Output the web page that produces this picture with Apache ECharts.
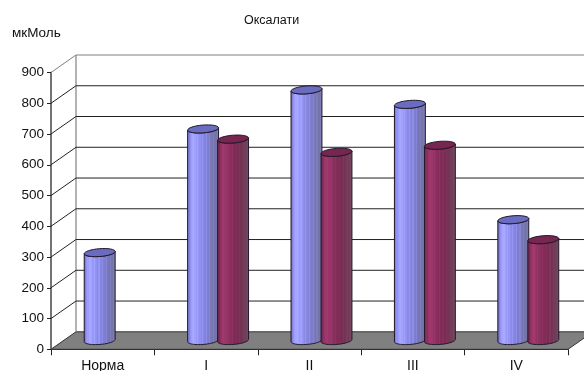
<!DOCTYPE html>
<html>
<head>
<meta charset="utf-8">
<style>html,body{margin:0;padding:0;background:#fff}#chart{width:584px;height:371px}</style>
<script src="https://cdn.jsdelivr.net/npm/echarts@6/dist/echarts.min.js"></script>
</head>
<body>
<div id="chart"></div>
<script>
// Oxalate levels by stage, pseudo-3D cylinder columns on a tilted floor.
const categories = ['Норма', 'I', 'II', 'III', 'IV'];
const seriesA = [286, 688, 815, 768, 393];
const seriesB = [null, 655, 612, 635, 328];
const yTicks = [0, 100, 200, 300, 400, 500, 600, 700, 800, 900];

const DEPTH_X = 25, DEPTH_Y = 17.5;
const TILT = -4.5 * Math.PI / 180;
// Facet shading across a cylinder, left to right.
const FACETS = [0.86, 0.94, 1.06, 1.14, 1.20, 1.22, 1.17, 1.10, 1.16, 1.08, 1.04, 1.0, 1.08, 0.98, 0.95, 1.02, 0.92, 0.90, 0.97, 0.86, 0.84, 0.90, 0.82, 0.82, 0.88, 0.86];

function shade(rgb, k, wash) {
  const grey = 128;
  return 'rgb(' + rgb.map(c => Math.min(255, Math.round((c * k) * (1 - wash) + grey * wash))).join(',') + ')';
}
function facetFill(rgb) {
  const stops = [];
  const n = FACETS.length;
  FACETS.forEach((k, i) => {
    // Far side of the column fades towards grey.
    const wash = Math.max(0, (i / n - 0.6) / 0.4) * 0.4;
    const col = shade(rgb, k, wash);
    stops.push({ offset: i / n, color: col });
    stops.push({ offset: (i + 1) / n, color: col });
  });
  return { type: 'linear', x: 0, y: 0, x2: 1, y2: 0, colorStops: stops };
}
// Point on a tilted ellipse at parameter t.
function ell(cx, cy, rx, ry, t) {
  const x = rx * Math.cos(t), y = ry * Math.sin(t);
  return [cx + x * Math.cos(TILT) - y * Math.sin(TILT), cy + x * Math.sin(TILT) + y * Math.cos(TILT)];
}
function arc(cx, cy, rx, ry, from, to) {
  const pts = [];
  for (let i = 0; i <= 32; i++) pts.push(ell(cx, cy, rx, ry, from + (to - from) * i / 32));
  return pts;
}

function cylinder(base, topColor, offset) {
  return function (params, api) {
    const v = api.value(1);
    if (v == null || isNaN(v)) return;
    const bw = api.size([1, 0])[0];
    const c = api.coord([api.value(0), v]);
    const b = api.coord([api.value(0), 0]);
    const cx = c[0] + DEPTH_X / 2 + bw * offset;
    const rx = bw * 0.15, ry = 3.9;
    const topY = c[1] - DEPTH_Y / 2, botY = b[1] - DEPTH_Y / 2;
    // Body: lower half of the base ellipse, then back across the top ellipse front.
    const body = arc(cx, botY, rx, ry, Math.PI, 0).concat(arc(cx, topY, rx, ry, 0, Math.PI));
    const border = { stroke: '#20182a', lineWidth: 1 };
    return {
      type: 'group',
      children: [
        { type: 'polygon', shape: { points: body }, style: Object.assign({ fill: facetFill(base) }, border) },
        { type: 'polygon', shape: { points: arc(cx, topY, rx, ry, 0, 2 * Math.PI) }, style: Object.assign({ fill: topColor }, border) }
      ]
    };
  };
}

// Back wall, left wall and floor, positioned from the value axis.
function renderWall(params, api) {
  const v = api.value(0);
  const sys = params.coordSys;
  const y = api.coord([0, v])[1];
  const x0 = sys.x, xb = sys.x + DEPTH_X, xr = sys.x + sys.width + DEPTH_X, yb = y - DEPTH_Y;
  const children = [];
  if (v === 0) {
    children.push({
      type: 'polygon',
      shape: { points: [[x0, y], [xb, yb], [xr, yb], [sys.x + sys.width, y]] },
      style: { fill: '#808080', stroke: '#333', lineWidth: 1 }
    });
    const topY = api.coord([0, yTicks[yTicks.length - 1]])[1] - DEPTH_Y;
    children.push({
      type: 'line', shape: { x1: xb, y1: yb, x2: xb, y2: topY },
      style: { stroke: '#808080', lineWidth: 1.2 }
    });
  } else {
    const top = v === yTicks[yTicks.length - 1];
    const stroke = top ? '#808080' : '#222';
    children.push({ type: 'line', shape: { x1: x0, y1: y, x2: xb, y2: yb }, style: { stroke, lineWidth: 1 } });
    children.push({ type: 'line', shape: { x1: xb, y1: yb, x2: xr, y2: yb }, style: { stroke, lineWidth: 1 } });
  }
  return { type: 'group', children };
}

const font = 'Liberation Sans';
const chart = echarts.init(document.getElementById('chart'), null, { renderer: 'canvas' });
chart.setOption({
  animation: false,
  backgroundColor: '#fff',
  title: [
    { text: 'Оксалати', left: 239, top: 9, textStyle: { fontFamily: font, fontSize: 12.5, fontWeight: 'normal', color: '#111' } },
    { text: 'мкМоль', left: 7, top: 21, textStyle: { fontFamily: font, fontSize: 13.5, fontWeight: 'normal', color: '#111' } }
  ],
  grid: { left: 51, right: 16, top: 72.5, bottom: 21.7, outerBoundsMode: 'none' },
  xAxis: {
    type: 'category',
    data: categories,
    axisLine: { lineStyle: { color: '#111', width: 1 } },
    axisTick: { show: true, alignWithLabel: false, length: 6, lineStyle: { color: '#222' } },
    axisLabel: { fontFamily: font, fontSize: 14, color: '#111', margin: 10, interval: 0 }
  },
  yAxis: {
    type: 'value',
    min: 0,
    max: 900,
    interval: 100,
    axisLine: { show: true, lineStyle: { color: '#444', width: 1.5 } },
    axisTick: { show: true, length: 4, lineStyle: { color: '#222' } },
    axisLabel: { fontFamily: font, fontSize: 13.5, color: '#111', margin: 7 },
    splitLine: { show: false }
  },
  series: [
    { type: 'custom', name: 'Стінки', coordinateSystem: 'cartesian2d', z: 1, silent: true,
      encode: { y: 0 }, data: yTicks.map(v => [v]), renderItem: renderWall },
    { type: 'custom', name: 'Серія 1', coordinateSystem: 'cartesian2d', z: 3,
      data: categories.map((c, i) => [i, seriesA[i]]), renderItem: cylinder([138, 138, 228], '#6a6cc0', -0.15) },
    { type: 'custom', name: 'Серія 2', coordinateSystem: 'cartesian2d', z: 4,
      data: categories.map((c, i) => [i, seriesB[i]]), renderItem: cylinder([132, 46, 90], '#772650', 0.14) }
  ]
});
</script>
</body>
</html>
